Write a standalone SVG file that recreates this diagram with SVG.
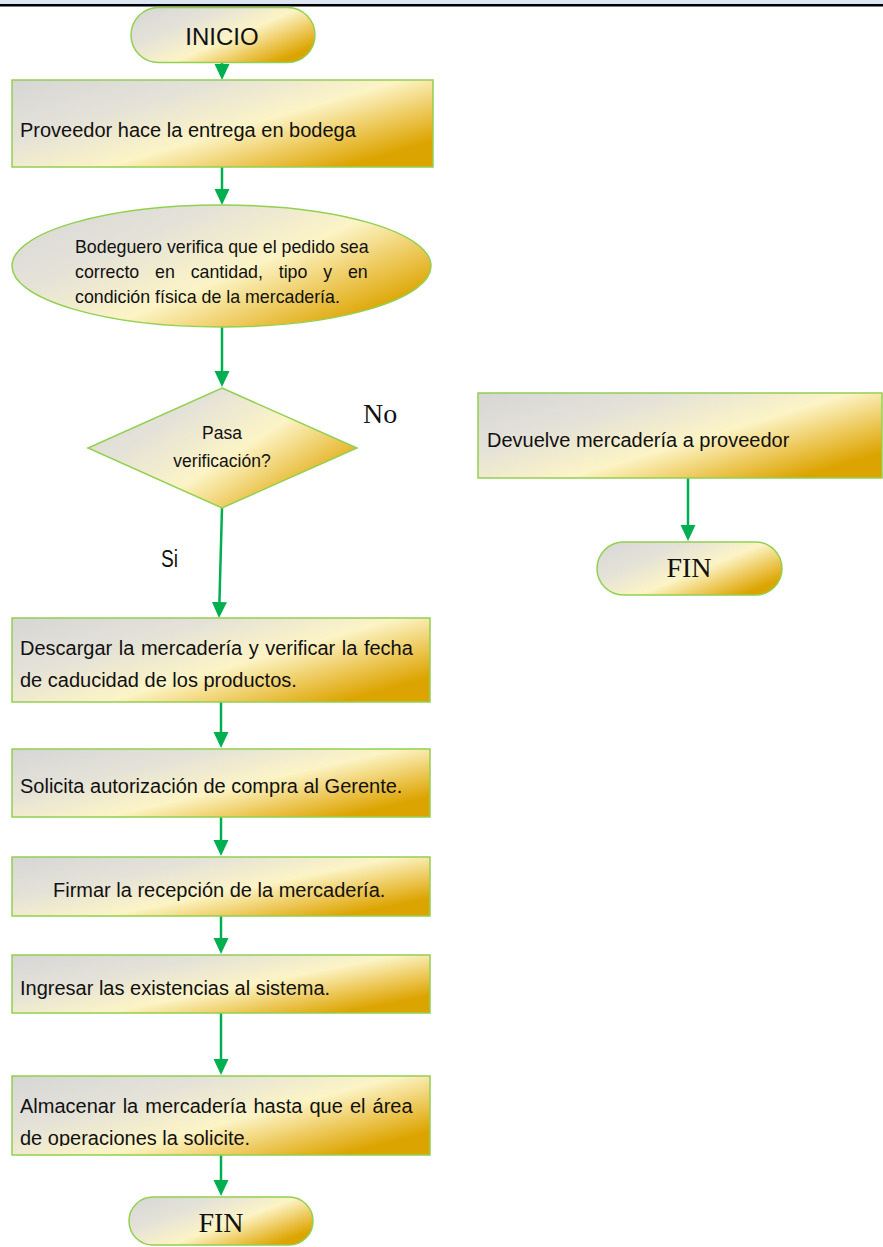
<svg xmlns="http://www.w3.org/2000/svg" width="883" height="1247" viewBox="0 0 883 1247">
  <defs>
    <linearGradient id="goldFill" x1="0" y1="0" x2="1" y2="0.7">
      <stop offset="0" stop-color="#d6d6d6"/>
      <stop offset="0.33" stop-color="#e4e2d8"/>
      <stop offset="0.62" stop-color="#fcf4c6"/>
      <stop offset="0.85" stop-color="#ebc34c"/>
      <stop offset="1" stop-color="#dca400"/>
    </linearGradient>
    <marker id="arrowHead" markerUnits="userSpaceOnUse" viewBox="0 0 16 16" refX="8" refY="8" markerWidth="16" markerHeight="16" orient="auto">
      <path d="M0,0.5 L16,8 L0,15.5 Z" fill="#00b050"/>
    </marker>
    <clipPath id="clipStore">
      <rect x="12" y="1076" width="418" height="70"/>
    </clipPath>
    <style>
      .shape { fill: url(#goldFill); stroke: #92d050; stroke-width: 1.5; }
      .lbl { font-family: "Liberation Sans", Arial, sans-serif; font-size: 20px; fill: #111; }
      .small { font-size: 17.8px; }
      .serif { font-family: "Liberation Serif", "Times New Roman", serif; font-size: 28px; fill: #111; }
      .mid { text-anchor: middle; }
      .conn { fill: none; stroke: #00b050; stroke-width: 2.5; marker-end: url(#arrowHead); }
    </style>
  </defs>

  <rect x="0" y="0" width="883" height="1247" fill="#ffffff"/>
  <!-- page header rule -->
  <rect x="0" y="0" width="883" height="4" fill="#dce6f2"/>
  <rect x="0" y="4" width="883" height="2.5" fill="#000000"/>

  <g id="connectors">
    <path class="conn" d="M222,63 L222,72"/>
    <path class="conn" d="M222,167 L222,197"/>
    <path class="conn" d="M222,327 L222,379"/>
    <path class="conn" d="M222,508 L219.2,610"/>
    <path class="conn" d="M221,702 L221,740"/>
    <path class="conn" d="M221,817 L221,848"/>
    <path class="conn" d="M221,916 L221,946"/>
    <path class="conn" d="M221,1013 L221,1067"/>
    <path class="conn" d="M221,1155 L221,1188"/>
    <path class="conn" d="M688,478 L688,533"/>
  </g>

  <g id="inicio">
    <rect class="shape" x="131" y="7.5" width="184" height="55" rx="27.5"/>
    <text class="lbl mid" x="222" y="45" style="font-size:24px">INICIO</text>
  </g>

  <g id="entrega">
    <rect class="shape" x="12" y="80" width="421" height="87"/>
    <text class="lbl" x="20" y="137">Proveedor hace la entrega en bodega</text>
  </g>

  <g id="verifica">
    <ellipse class="shape" cx="221.5" cy="266" rx="209.5" ry="61"/>
    <text class="lbl small" x="75" y="253">Bodeguero verifica que el pedido sea</text>
    <text class="lbl small" x="75" y="278" style="word-spacing:10.9px">correcto en cantidad, tipo y en</text>
    <text class="lbl small" x="75" y="303">condición física de la mercadería.</text>
  </g>

  <g id="decision">
    <polygon class="shape" points="222,388 357,448 222,508 88,448"/>
    <text class="lbl mid" x="222" y="439" style="font-size:17.5px">Pasa</text>
    <text class="lbl mid" x="222" y="467" style="font-size:17.5px">verificación?</text>
  </g>

  <g id="label-no">
    <text class="serif" x="363" y="423">No</text>
  </g>
  <g id="label-si">
    <text class="lbl" x="161" y="567" style="font-size:23px" textLength="17" lengthAdjust="spacingAndGlyphs">Si</text>
  </g>

  <g id="devuelve">
    <rect class="shape" x="478" y="393" width="404" height="85"/>
    <text class="lbl" x="487" y="447">Devuelve mercadería a proveedor</text>
  </g>

  <g id="fin-devolucion">
    <rect class="shape" x="597" y="542" width="185" height="53" rx="26.5"/>
    <text class="serif mid" x="689" y="577">FIN</text>
  </g>

  <g id="descargar">
    <rect class="shape" x="12" y="618" width="418" height="84"/>
    <text class="lbl" x="20" y="655" style="word-spacing:1px">Descargar la mercadería y verificar la fecha</text>
    <text class="lbl" x="20" y="687">de caducidad de los productos.</text>
  </g>

  <g id="autorizacion">
    <rect class="shape" x="12" y="749" width="418" height="68"/>
    <text class="lbl" x="20" y="793">Solicita autorización de compra al Gerente.</text>
  </g>

  <g id="firmar">
    <rect class="shape" x="12" y="857" width="418" height="59"/>
    <text class="lbl" x="53" y="897">Firmar la recepción de la mercadería.</text>
  </g>

  <g id="ingresar">
    <rect class="shape" x="12" y="955" width="418" height="58"/>
    <text class="lbl" x="20" y="995">Ingresar las existencias al sistema.</text>
  </g>

  <g id="almacenar">
    <rect class="shape" x="12" y="1076" width="418" height="79"/>
    <g clip-path="url(#clipStore)">
      <text class="lbl" x="20" y="1113" style="word-spacing:1.5px">Almacenar la mercadería hasta que el área</text>
      <text class="lbl" x="20" y="1145">de operaciones la solicite.</text>
    </g>
  </g>

  <g id="fin-principal">
    <rect class="shape" x="129" y="1197" width="184" height="48" rx="24"/>
    <text class="serif mid" x="221" y="1232">FIN</text>
  </g>
</svg>
